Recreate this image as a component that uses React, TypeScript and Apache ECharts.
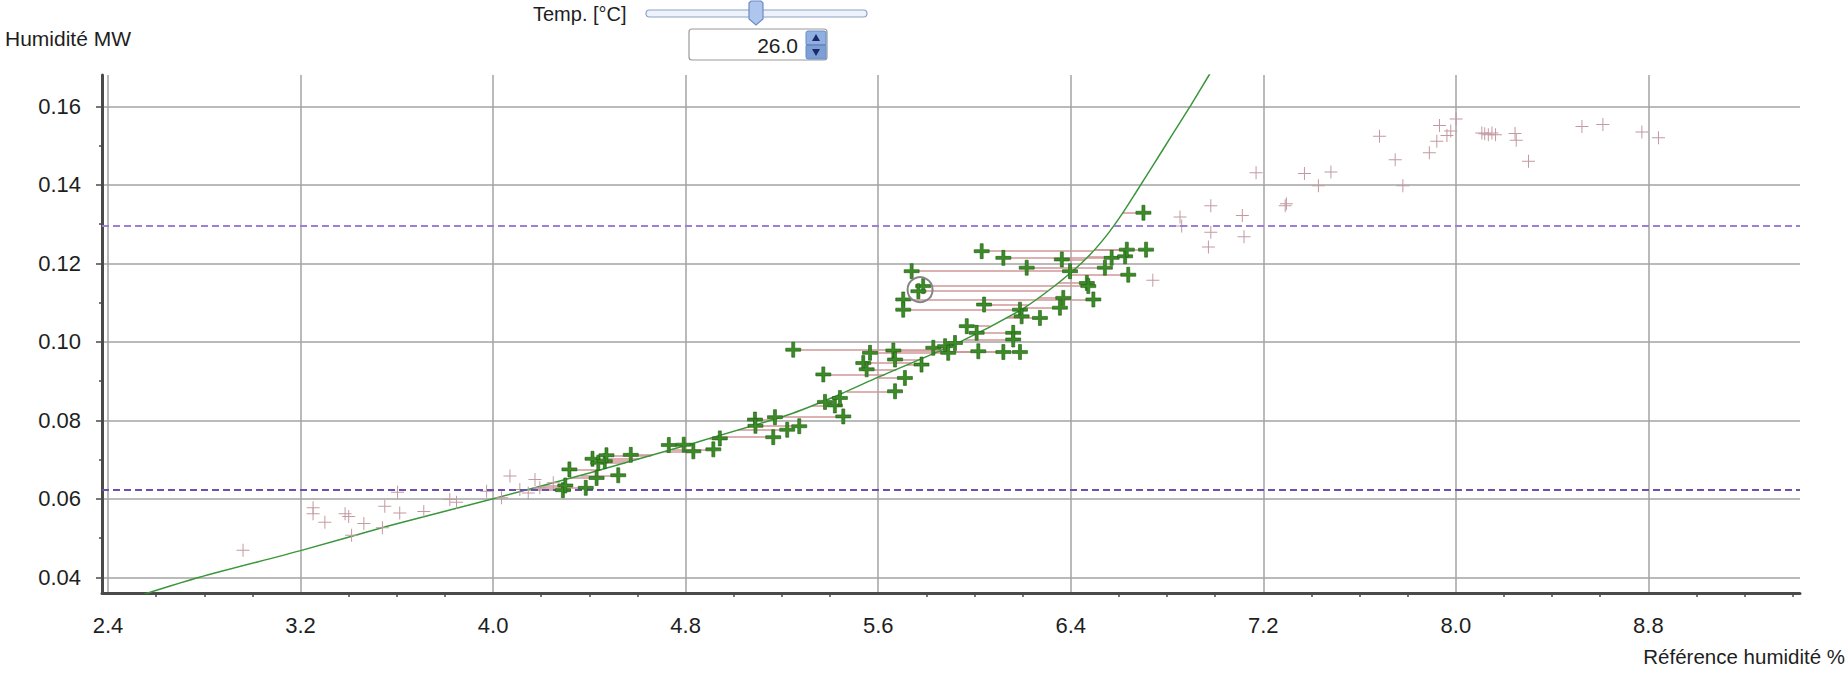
import React, { useEffect, useRef } from "react";
import * as echarts from "echarts";

// ---- axis ticks / labels ----
const xMajorTicks = [2.4, 3.2, 4.0, 4.8, 5.6, 6.4, 7.2, 8.0, 8.8];
const xMinorTicks = [2.6, 2.8, 3.0, 3.4, 3.6, 3.8, 4.2, 4.4, 4.6, 5.0, 5.2, 5.4, 5.8, 6.0, 6.2, 6.6, 6.8, 7.0, 7.4, 7.6, 7.8, 8.2, 8.4, 8.6, 9.0, 9.2, 9.4];
const yMajorTicks = [0.04, 0.06, 0.08, 0.1, 0.12, 0.14, 0.16];
const yMinorTicks = [0.05, 0.07, 0.09, 0.11, 0.13, 0.15];
const xRange = [2.375, 9.43];
const yRange = [0.036, 0.168];

// ---- texts ----
const yAxisTitle = "Humidité MW";
const xAxisTitle = "Référence humidité %";
const sliderLabel = "Temp. [°C]";
const temperature = 26.0;

// ---- calibration curve ----
const curvePoints = [
  [2.55, 0.0357], [2.78, 0.04], [3.2, 0.0468], [3.56, 0.053], [4.0, 0.06],
  [4.4, 0.0666], [4.8, 0.0736], [5.23, 0.0815], [5.44, 0.0866], [5.6, 0.091],
  [5.94, 0.1], [6.19, 0.108], [6.3, 0.1127], [6.4, 0.1176], [6.48, 0.1222],
  [6.55, 0.1272], [6.61, 0.1323], [6.67, 0.138], [6.74, 0.1448], [6.82, 0.1526],
  [6.9, 0.1604], [6.975, 0.168], [7.01, 0.1715],
];

// ---- limit lines ----
const upperLimit = 0.1295;
const lowerLimit = 0.0624;

// ---- selected (green) samples ----
const selectedPoints = [
  [4.29, 0.0622], [4.3, 0.0634], [4.385, 0.0628], [4.317, 0.0675], [4.413, 0.0702],
  [4.437, 0.0692], [4.464, 0.0696], [4.471, 0.0711], [4.43, 0.0653], [4.52, 0.066],
  [4.572, 0.0712], [4.73, 0.0737], [4.792, 0.0738], [4.832, 0.0721], [4.915, 0.0726],
  [4.942, 0.0754], [5.088, 0.0802], [5.09, 0.0786], [5.171, 0.0808], [5.164, 0.0757],
  [5.222, 0.0776], [5.272, 0.0785], [5.379, 0.0847], [5.42, 0.0838], [5.441, 0.0857],
  [5.455, 0.081], [5.372, 0.0917], [5.247, 0.098], [5.538, 0.0946], [5.552, 0.093],
  [5.566, 0.0972], [5.663, 0.0978], [5.67, 0.0955], [5.67, 0.0874], [5.711, 0.0908],
  [5.78, 0.0942], [5.829, 0.0985], [5.878, 0.0989], [5.891, 0.0972], [5.919, 0.0997],
  [5.968, 0.104], [6.009, 0.1023], [6.016, 0.0976], [6.12, 0.0974], [6.189, 0.0974],
  [6.161, 0.1023], [6.161, 0.1006], [6.04, 0.1095], [6.189, 0.1082], [6.196, 0.1065],
  [6.272, 0.1061], [6.03, 0.1231], [6.12, 0.1214], [6.217, 0.1189], [6.363, 0.121],
  [6.397, 0.118], [5.739, 0.118], [5.787, 0.1142], [5.767, 0.1129], [5.704, 0.1108],
  [5.704, 0.1082], [6.467, 0.115], [6.473, 0.1142], [6.494, 0.1108], [6.369, 0.1112],
  [6.355, 0.1087], [6.542, 0.1189], [6.57, 0.1214], [6.626, 0.1218], [6.633, 0.1235],
  [6.639, 0.1171], [6.713, 0.1235], [6.702, 0.1329],
];

// ---- other (unselected) samples ----
const otherPoints = [
  [2.961, 0.0469], [3.252, 0.0577], [3.252, 0.0562], [3.301, 0.054], [3.385, 0.0562],
  [3.4, 0.0555], [3.412, 0.0507], [3.463, 0.0537], [3.54, 0.0526], [3.55, 0.0581],
  [3.603, 0.0617], [3.612, 0.0564], [3.712, 0.0568], [3.82, 0.0598], [3.848, 0.0591],
  [3.973, 0.0619], [4.035, 0.0603], [4.07, 0.0658], [4.111, 0.0624], [4.146, 0.0615],
  [4.174, 0.0649], [4.194, 0.0628], [4.25, 0.0641],
  [6.741, 0.1157], [6.854, 0.1318], [6.861, 0.1295], [6.982, 0.1347], [6.982, 0.1279],
  [6.972, 0.1242], [7.113, 0.1322], [7.12, 0.1268], [7.17, 0.1431], [7.291, 0.1347],
  [7.296, 0.1352], [7.371, 0.1429], [7.429, 0.1398], [7.481, 0.1433], [7.683, 0.1524],
  [7.748, 0.1464], [7.78, 0.1398], [7.89, 0.1482], [7.921, 0.1511], [7.932, 0.1551],
  [7.963, 0.1526], [7.979, 0.1537], [8.001, 0.1568], [8.108, 0.1532], [8.12, 0.153],
  [8.135, 0.1528], [8.15, 0.1532], [8.165, 0.1528], [8.246, 0.1531], [8.251, 0.1514],
  [8.302, 0.146], [8.524, 0.1549], [8.611, 0.1554], [8.773, 0.1535], [8.842, 0.152],
];

// ---- highlighted sample ----
const highlighted = [5.774, 0.1133];

function curveXAt(y: number): number | null {
  for (let i = 0; i < curvePoints.length - 1; i++) {
    const [x0, y0] = curvePoints[i];
    const [x1, y1] = curvePoints[i + 1];
    if (y >= y0 && y <= y1) return x0 + ((y - y0) / (y1 - y0)) * (x1 - x0);
  }
  return null;
}

const FONT = '"Liberation Sans", Arial, sans-serif';
const AXIS_COLOR = "#4a4a4a";
const GRID_COLOR = "#a3a3a3";
const THIN_PLUS = "path://M6,0h1v6h6v1h-6v6h-1v-6h-6v-1h6z";
const BOLD_PLUS = "path://M6,0h3v6h6v3h-6v6h-3v-6h-6v-3h6z";

export default function App() {
  const ref = useRef<HTMLDivElement>(null);

  useEffect(() => {
    if (!ref.current) return;
    const chart = echarts.init(ref.current, undefined, { renderer: "svg" });

    const connectors = selectedPoints
      .map(([x, y]) => {
        const cx = curveXAt(y);
        return cx == null ? null : { coords: [[x, y], [cx, y]] };
      })
      .filter(Boolean);

    const txt = (text: string, x: number, y: number, size: number, align: string) => ({
      type: "text",
      x,
      y,
      style: {
        text,
        font: `${size}px ${FONT}`,
        fill: "#1e1e1e",
        textAlign: align,
        align,
        textVerticalAlign: "middle",
        verticalAlign: "middle",
      },
    });

    const option: any = {
      animation: false,
      backgroundColor: "#ffffff",
      grid: { left: 102, right: 47, top: 75, bottom: 85, containLabel: false, outerBoundsMode: "none" },
      xAxis: [
        {
          type: "value",
          min: xRange[0],
          max: xRange[1],
          axisLine: { show: true, onZero: false, lineStyle: { color: AXIS_COLOR, width: 3 } },
          axisTick: { show: false, customValues: xMajorTicks },
          axisLabel: {
            customValues: xMajorTicks,
            formatter: (v: number) => v.toFixed(1),
            fontFamily: FONT,
            fontSize: 22,
            color: "#1e1e1e",
            margin: 21,
          },
          splitLine: { show: true, lineStyle: { color: GRID_COLOR, width: 1.5 } },
        },
        {
          type: "value",
          position: "bottom",
          min: xRange[0],
          max: xRange[1],
          axisLine: { show: false, onZero: false },
          axisTick: { show: true, length: 4, customValues: xMinorTicks, lineStyle: { color: AXIS_COLOR, width: 1.5 } },
          axisLabel: { show: false },
          splitLine: { show: false },
        },
      ],
      yAxis: [
        {
          type: "value",
          min: yRange[0],
          max: yRange[1],
          axisLine: { show: true, onZero: false, lineStyle: { color: AXIS_COLOR, width: 3 } },
          axisTick: { show: true, length: 6, customValues: yMajorTicks, lineStyle: { color: AXIS_COLOR, width: 1.5 } },
          axisLabel: {
            customValues: yMajorTicks,
            formatter: (v: number) => v.toFixed(2),
            fontFamily: FONT,
            fontSize: 22,
            color: "#1e1e1e",
            margin: 21,
          },
          splitLine: { show: true, lineStyle: { color: GRID_COLOR, width: 1.5 } },
        },
        {
          type: "value",
          position: "left",
          min: yRange[0],
          max: yRange[1],
          axisLine: { show: false, onZero: false },
          axisTick: { show: true, length: 3, customValues: yMinorTicks, lineStyle: { color: AXIS_COLOR, width: 1.5 } },
          axisLabel: { show: false },
          splitLine: { show: false },
        },
      ],
      series: [
        {
          type: "lines",
          coordinateSystem: "cartesian2d",
          silent: true,
          z: 2,
          lineStyle: { color: "#cf9797", width: 1.5, opacity: 1 },
          data: connectors,
        },
        {
          type: "line",
          data: curvePoints,
          showSymbol: false,
          smooth: 0.25,
          silent: true,
          z: 3,
          lineStyle: { color: "#3a963a", width: 1.5 },
          markLine: {
            silent: true,
            precision: 5,
            symbol: ["none", "none"],
            label: { show: false },
            data: [
              { yAxis: upperLimit, lineStyle: { color: "#9b80d8", width: 2, type: [7, 4] } },
              { yAxis: lowerLimit, lineStyle: { color: "#6c4fae", width: 2, type: [7, 4] } },
            ],
          },
        },
        {
          type: "scatter",
          data: otherPoints,
          symbol: THIN_PLUS,
          symbolSize: 13,
          silent: true,
          z: 4,
          itemStyle: { color: "#c29aa1", opacity: 1 },
        },
        {
          type: "scatter",
          data: selectedPoints,
          symbol: BOLD_PLUS,
          symbolSize: 15,
          silent: true,
          z: 5,
          itemStyle: { color: "#3c8c26", borderColor: "#1d5a10", borderWidth: 0.6, opacity: 1 },
        },
        {
          type: "scatter",
          data: [highlighted],
          symbol: "circle",
          symbolSize: 25,
          silent: true,
          z: 6,
          itemStyle: { color: "rgba(0,0,0,0)", borderColor: "#858585", borderWidth: 2, opacity: 1 },
        },
      ],
      graphic: [
        txt(yAxisTitle, 5, 38, 21, "left"),
        txt(xAxisTitle, 1845, 656, 20.5, "right"),
        txt(sliderLabel, 533, 14, 20, "left"),
        {
          type: "rect",
          shape: { x: 646, y: 10, width: 221, height: 7, r: 3.5 },
          style: { fill: "#eef2fa", stroke: "#8ea2c6", lineWidth: 1.2 },
        },
        {
          type: "polygon",
          shape: { points: [[749, 3], [751, 1], [761, 1], [763, 3], [763, 19], [756, 25], [749, 19]] },
          style: { fill: "#aec6ee", stroke: "#6d8cc4", lineWidth: 1.2 },
        },
        {
          type: "rect",
          shape: { x: 689, y: 29, width: 138, height: 31, r: 3 },
          style: { fill: "#ffffff", stroke: "#9a9a9a", lineWidth: 1.2 },
        },
        txt(temperature.toFixed(1), 798, 45, 21, "right"),
        {
          type: "rect",
          shape: { x: 806, y: 31, width: 20, height: 13.5, r: [2, 2, 0, 0] },
          style: { fill: "#8fb0e2", stroke: "#6a8cc4", lineWidth: 1 },
        },
        {
          type: "rect",
          shape: { x: 806, y: 45.5, width: 20, height: 13.5, r: [0, 0, 2, 2] },
          style: { fill: "#7d9fd6", stroke: "#6a8cc4", lineWidth: 1 },
        },
        {
          type: "polygon",
          shape: { points: [[812, 41], [820, 41], [816, 34]] },
          style: { fill: "#1b2a66" },
        },
        {
          type: "polygon",
          shape: { points: [[812, 49], [820, 49], [816, 56]] },
          style: { fill: "#1b2a66" },
        },
      ],
    };

    chart.setOption(option);
    return () => chart.dispose();
  }, []);

  return (
    <div
      ref={ref}
      style={{ position: "fixed", left: 0, top: 0, width: 1847, height: 678, background: "#fff" }}
    />
  );
}
